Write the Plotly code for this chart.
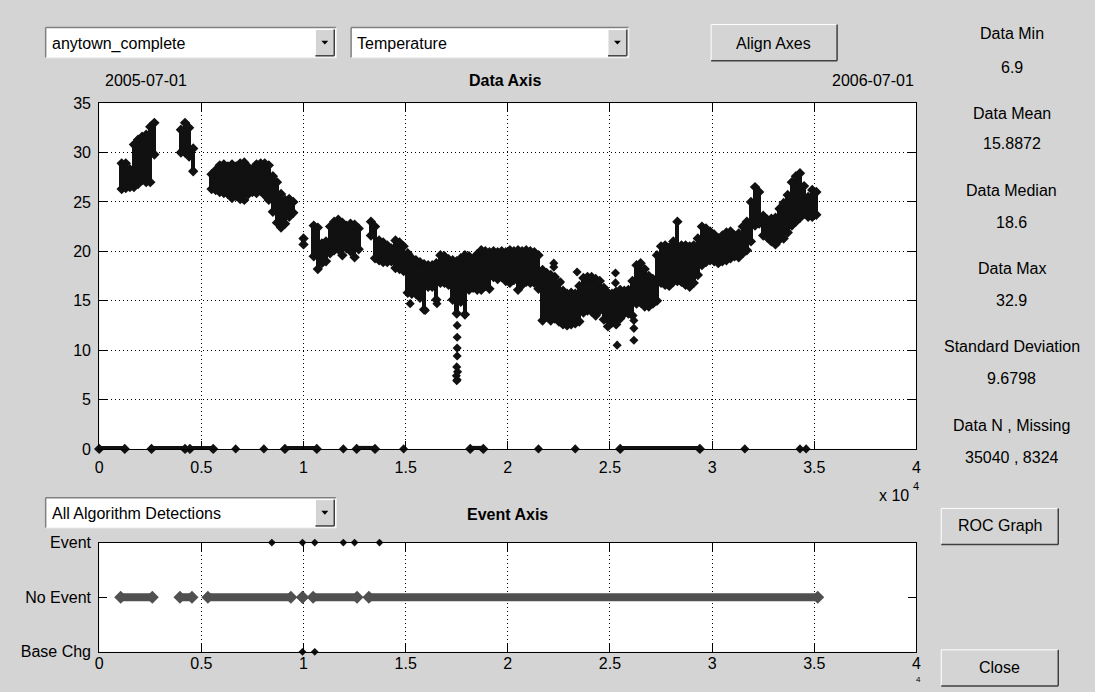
import plotly.graph_objects as go

W, H = 1095, 692
BG = "#d4d4d4"
FONT = "Liberation Sans, Arial, sans-serif"

# ---------------- data (x in units of 10^4 samples) ----------------
temp_x = [0.11, 0.13, 0.15, 0.17, 0.19, 0.21, 0.23, 0.25, 0.27,
          0.40, 0.42, 0.44, 0.46,
          0.55, 0.57, 0.59, 0.61, 0.63, 0.65, 0.67, 0.69, 0.71, 0.73, 0.75,
          0.77, 0.79, 0.81, 0.83, 0.85, 0.87, 0.89, 0.91, 0.93, 0.95,
          1.00,
          1.05, 1.07, 1.09, 1.11, 1.13, 1.15, 1.17, 1.19, 1.21, 1.23, 1.25, 1.27,
          1.33, 1.35, 1.37, 1.39, 1.41, 1.43, 1.45, 1.47, 1.49, 1.51, 1.53,
          1.55, 1.57, 1.59, 1.61, 1.63, 1.65, 1.67, 1.69, 1.71, 1.73, 1.75,
          1.77, 1.79, 1.81, 1.83, 1.85, 1.87, 1.89, 1.91, 1.93, 1.95, 1.97,
          1.99, 2.01, 2.03, 2.05, 2.07, 2.09, 2.11, 2.13, 2.15, 2.17, 2.19,
          2.21, 2.23, 2.25, 2.27, 2.29, 2.31, 2.33, 2.35, 2.37, 2.39, 2.41,
          2.43, 2.45, 2.47, 2.49, 2.51, 2.53, 2.55, 2.57, 2.59, 2.61, 2.63,
          2.65, 2.67, 2.69, 2.71, 2.73, 2.75, 2.77, 2.79, 2.81, 2.83, 2.85,
          2.87, 2.89, 2.91, 2.93, 2.95, 2.97, 2.99, 3.01, 3.03, 3.05, 3.07,
          3.09, 3.11, 3.13, 3.15, 3.17, 3.19, 3.21, 3.23, 3.25, 3.27, 3.29,
          3.31, 3.33, 3.35, 3.37, 3.39, 3.41, 3.43, 3.45, 3.47, 3.49, 3.51]
temp_lo = [26.3, 26.4, 26.5, 26.5, 26.8, 27.2, 27.0, 27.0, 29.8,
           30.0, 30.0, 29.6, 28.1,
           26.3, 26.2, 26.0, 25.9, 25.8, 25.4, 25.6, 25.3, 25.2, 25.8, 26.0,
           25.9, 26.1, 25.7, 25.2, 24.0, 22.9, 22.4, 22.8, 23.5, 23.9,
           20.7,
           19.5, 18.2, 18.8, 19.0, 19.8, 20.1, 20.2, 19.6, 20.3, 20.0, 19.4, 20.2,
           21.6, 19.3, 19.1, 18.9, 18.9, 19.0, 18.3, 18.2, 18.0, 15.8, 15.7,
           15.7, 15.3, 14.1, 16.4, 16.4, 15.1, 16.8, 16.8, 16.6, 15.1, 13.7,
           14.9, 13.6, 16.1, 16.3, 16.1, 16.1, 16.5, 16.2, 17.4, 17.2, 17.4,
           17.0, 16.8, 17.1, 16.1, 16.6, 16.9, 16.8, 16.8, 16.2, 13.0, 13.5,
           13.0, 13.2, 12.9, 12.6, 12.5, 12.6, 12.7, 12.9, 13.8, 14.0, 13.9,
           13.5, 14.0, 13.1, 12.4, 12.8, 12.6, 13.2, 13.7, 13.7, 13.5, 14.7,
           14.8, 14.4, 14.4, 14.7, 15.0, 16.8, 16.6, 16.5, 16.9, 17.0, 16.9,
           16.6, 16.4, 16.8, 17.6, 18.6, 18.9, 19.1, 19.0, 18.8, 19.0, 19.1,
           19.3, 19.5, 19.4, 19.8, 20.1, 21.0, 22.6, 22.8, 21.6, 21.4, 21.0,
           20.7, 21.2, 21.3, 21.9, 22.6, 23.0, 23.4, 23.8, 23.5, 23.5, 23.7]
temp_hi = [28.9, 28.9, 28.3, 30.8, 31.3, 31.6, 31.8, 32.6, 33.0,
           32.3, 33.0, 32.5, 30.4,
           27.8, 28.2, 28.7, 28.8, 28.6, 28.8, 28.6, 28.9, 29.0, 28.5, 28.3,
           28.8, 28.9, 28.9, 28.7, 27.6, 27.0, 25.8, 25.2, 25.3, 25.0,
           21.3,
           22.6, 22.4, 20.8, 21.0, 22.5, 23.0, 23.2, 22.9, 22.6, 22.8, 22.7, 22.3,
           23.0, 22.5, 21.1, 20.9, 20.6, 20.3, 21.1, 20.9, 20.5, 19.8, 19.3,
           19.1, 18.9, 18.7, 18.6, 18.6, 18.8, 19.6, 19.5, 19.2, 19.1, 19.0,
           19.3, 19.6, 19.5, 19.2, 19.7, 20.1, 20.0, 19.9, 20.0, 19.9, 20.0,
           19.9, 20.1, 20.0, 20.1, 20.0, 20.1, 20.0, 19.9, 19.6, 18.1, 17.8,
           17.6, 17.4, 16.8, 16.0, 15.7, 15.8, 15.7, 16.5, 17.3, 17.4, 17.4,
           17.2, 17.0, 16.3, 15.8, 15.7, 15.9, 16.1, 16.0, 16.1, 17.0, 18.6,
           18.8, 18.2, 17.5, 17.2, 19.6, 20.5, 20.6, 20.4, 21.0, 23.0, 20.6,
           20.6, 20.5, 20.6, 21.3, 22.5, 22.3, 22.0, 21.7, 21.3, 21.6, 21.9,
           22.0, 21.6, 21.8, 22.5, 23.0, 25.0, 26.5, 26.0, 23.6, 23.2, 23.3,
           23.4, 24.3, 24.9, 25.7, 27.0, 27.6, 27.9, 26.6, 25.5, 26.2, 26.0]

# individual outlying readings
outlier_x = [1.522, 1.596, 1.653, 1.790, 1.752, 1.752, 1.752, 1.752, 1.750,
             1.754, 1.748, 1.752, 1.750, 2.225, 2.225, 2.258, 2.339, 2.527,
             2.527, 2.535, 2.487, 2.617, 2.617, 2.617]
outlier_y = [14.7, 14.0, 14.7, 13.6, 12.5, 11.3, 10.2, 9.4, 8.3,
             7.8, 7.4, 7.0, 6.9, 18.8, 18.4, 16.9, 17.9, 17.8,
             16.8, 10.5, 13.0, 13.0, 12.2, 11.0]

# missing readings plotted at zero
zero_start = [0.0, 0.256, 0.444, 0.909, 1.26, 1.816, 2.55]
zero_end = [0.125, 0.42, 0.558, 1.065, 1.35, 1.88, 2.94]
zero_single = [0.668, 0.806, 1.195, 1.49, 2.15, 2.33, 3.16, 3.43, 3.46]

# event axis
noevent_start = [0.105, 0.395, 0.532, 0.995, 1.047, 1.32]
noevent_end = [0.26, 0.454, 0.938, 0.995, 1.262, 3.517]
event_x = [0.845, 0.995, 1.055, 1.195, 1.25, 1.372]
basechg_x = [0.995, 1.055]

x_ticks = [0, 0.5, 1, 1.5, 2, 2.5, 3, 3.5, 4]
x_ticktext = ["0", "0.5", "1", "1.5", "2", "2.5", "3", "3.5", "4"]
y_ticks = [0, 5, 10, 15, 20, 25, 30, 35]
ev_ticks = [-1, 0, 1]
ev_ticktext = ["Base Chg", "No Event", "Event"]

stat_labels = ["Data Min", "Data Mean", "Data Median", "Data Max",
               "Standard Deviation", "Data N , Missing"]
stat_values = ["6.9", "15.8872", "18.6", "32.9", "9.6798", "35040 , 8324"]

# ---------------- figure ----------------
fig = go.Figure()

fig.add_trace(go.Bar(
    x=temp_x, y=[h - l for h, l in zip(temp_hi, temp_lo)], base=temp_lo,
    width=0.02, marker=dict(color="#111111", line=dict(width=0)),
    xaxis="x", yaxis="y", hoverinfo="skip"))
fig.add_trace(go.Scatter(
    x=temp_x + temp_x, y=temp_lo + temp_hi, mode="markers",
    marker=dict(symbol="diamond", size=8, color="#111111"),
    xaxis="x", yaxis="y", hoverinfo="skip"))
fig.add_trace(go.Scatter(
    x=outlier_x, y=outlier_y, mode="markers",
    marker=dict(symbol="diamond", size=7, color="#111111"),
    xaxis="x", yaxis="y", hoverinfo="skip"))

zx, zy = [], []
for s, e in zip(zero_start, zero_end):
    zx += [s, e, None]
    zy += [0, 0, None]
fig.add_trace(go.Scatter(
    x=zx, y=zy, mode="lines+markers", cliponaxis=False,
    line=dict(color="#111111", width=6),
    marker=dict(symbol="diamond", size=8, color="#111111"),
    xaxis="x", yaxis="y", hoverinfo="skip"))
fig.add_trace(go.Scatter(
    x=zero_single, y=[0] * len(zero_single), mode="markers", cliponaxis=False,
    marker=dict(symbol="diamond", size=7, color="#111111"),
    xaxis="x", yaxis="y", hoverinfo="skip"))

nx, ny = [], []
for s, e in zip(noevent_start, noevent_end):
    nx += [s, e, None]
    ny += [0, 0, None]
fig.add_trace(go.Scatter(
    x=nx, y=ny, mode="lines+markers", cliponaxis=False,
    line=dict(color="#505050", width=8),
    marker=dict(symbol="diamond", size=10, color="#505050"),
    xaxis="x2", yaxis="y2", hoverinfo="skip"))
fig.add_trace(go.Scatter(
    x=event_x, y=[1] * len(event_x), mode="markers", cliponaxis=False,
    marker=dict(symbol="diamond", size=6, color="#111111"),
    xaxis="x2", yaxis="y2", hoverinfo="skip"))
fig.add_trace(go.Scatter(
    x=basechg_x, y=[-1] * len(basechg_x), mode="markers", cliponaxis=False,
    marker=dict(symbol="diamond", size=6, color="#111111"),
    xaxis="x2", yaxis="y2", hoverinfo="skip"))


def px(x):
    return x / W


def py(y):
    return 1 - y / H


ax_common = dict(showline=True, linecolor="black", linewidth=1, mirror="ticks",
                 ticks="inside", ticklen=8, tickcolor="black", zeroline=False,
                 tickfont=dict(family=FONT, size=16, color="black"),
                 fixedrange=True)

AX_L, AX_R = 96, 920
fig.update_layout(
    width=W, height=H, margin=dict(l=0, r=0, t=0, b=0),
    paper_bgcolor=BG, plot_bgcolor="white", showlegend=False,
    font=dict(family=FONT, size=16, color="black"),
    xaxis=dict(domain=[px(AX_L), px(AX_R)], range=[0, 4], tickvals=x_ticks,
               ticktext=x_ticktext, showgrid=True, gridcolor="black",
               gridwidth=1, griddash="1px,3px", anchor="y",
               ticklabelstandoff=4, **ax_common),
    yaxis=dict(domain=[py(452), py(97.5)], range=[0, 35], tickvals=y_ticks,
               showgrid=True, gridcolor="black", gridwidth=1,
               griddash="1px,3px", anchor="x", ticklabelstandoff=4,
               **ax_common),
    xaxis2=dict(domain=[px(AX_L), px(AX_R)], range=[0, 4], tickvals=x_ticks,
                ticktext=x_ticktext, showgrid=True, gridcolor="black",
                gridwidth=1, griddash="1px,3px", anchor="y2",
                ticklabelstandoff=-3, **ax_common),
    yaxis2=dict(domain=[py(660), py(548)], range=[-1, 1], tickvals=ev_ticks,
                ticktext=ev_ticktext, showgrid=False, anchor="x2",
                ticklabelstandoff=4, **ax_common),
    bargap=0,
)

shapes = []
annotations = []


def rect(x0, y0, x1, y1, fill, line=None):
    shapes.append(dict(type="rect", xref="paper", yref="paper",
                       x0=px(x0), x1=px(x1), y0=py(y1), y1=py(y0),
                       fillcolor=fill, line=dict(width=0) if line is None else line,
                       layer="above"))


def seg(x0, y0, x1, y1, color, w=1):
    shapes.append(dict(type="line", xref="paper", yref="paper",
                       x0=px(x0), x1=px(x1), y0=py(y0), y1=py(y1),
                       line=dict(color=color, width=w), layer="above"))


def raised(x0, y0, x1, y1):
    rect(x0, y0, x1, y1, BG)
    seg(x0, y0, x1, y0, "#ffffff")
    seg(x0, y0, x0, y1, "#ffffff")
    seg(x0, y1, x1, y1, "#404040", 1.5)
    seg(x1, y0, x1, y1, "#404040", 1.5)


def text(x, y, s, size=16, bold=False, anchor="center"):
    annotations.append(dict(xref="paper", yref="paper", x=px(x), y=py(y),
                            text=("<b>%s</b>" % s) if bold else s,
                            showarrow=False, xanchor=anchor, yanchor="middle",
                            font=dict(family=FONT, size=size, color="black")))


def dropdown(x0, y0, x1, y1, label):
    rect(x0, y0, x1, y1, "white")
    seg(x0, y0, x1, y0, "#808080", 1.5)
    seg(x0, y0, x0, y1, "#808080", 1.5)
    seg(x0, y1, x1, y1, "#f0f0f0")
    seg(x1, y0, x1, y1, "#f0f0f0")
    bx0, bx1 = x1 - 21, x1 - 2
    raised(bx0, y0 + 2, bx1, y1 - 2)
    cx, cy = (bx0 + bx1) / 2, (y0 + y1) / 2
    shapes.append(dict(type="path", xref="paper", yref="paper",
                       path="M %f %f L %f %f L %f %f Z" % (
                           px(cx - 3.5), py(cy - 2), px(cx + 3.5), py(cy - 2),
                           px(cx), py(cy + 2)),
                       fillcolor="black", line=dict(width=0), layer="above"))
    text(x0 + 4, (y0 + y1) / 2 + 1, label, anchor="left")


dropdown(42, 20, 335, 51, "anytown_complete")
dropdown(350, 20, 630, 51, "Temperature")
dropdown(42, 502, 335, 533, "All Algorithm Detections")
raised(713, 17, 840, 54)
text(776, 36, "Align Axes")
raised(945, 513, 1063, 550)
text(1004, 531, "ROC Graph")
raised(945, 658, 1063, 695)
text(1004, 676, "Close")

text(143, 74, "2005-07-01")
text(876, 74, "2006-07-01")
text(505, 74, "Data Axis", bold=True)
text(508, 519, "Event Axis", bold=True)
text(897, 500, "x 10")
text(920, 490, "4", size=11)
text(922, 688, "4", size=8)

stat_label_y = [26, 108, 187, 267, 347, 428]
stat_value_y = [61, 139, 220, 300, 380, 461]
for lab, val, ly, vy in zip(stat_labels, stat_values, stat_label_y, stat_value_y):
    text(1016, ly, lab)
    text(1016, vy, val)

fig.update_layout(shapes=shapes, annotations=annotations)

post = (
    "document.documentElement.style.margin='0';"
    "document.documentElement.style.overflow='hidden';"
    "document.body.style.margin='0';"
    "document.body.style.overflow='hidden';"
    "var gd=document.getElementById('{plot_id}');"
    "gd.style.position='fixed';gd.style.top='0px';gd.style.left='0px';"
)
fig.write_html("out.html", config={"displayModeBar": False}, post_script=post)
